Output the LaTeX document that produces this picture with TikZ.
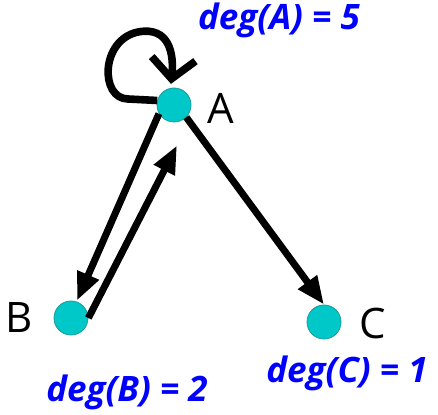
\documentclass[tikz,border=0pt]{standalone}
\usepackage{fontspec}
\setmainfont{Open Sans}
\usepackage{tikz}
\usetikzlibrary{arrows.meta, positioning}
\definecolor{vtxcyan}{HTML}{00C8C8}
\definecolor{vtxrim}{HTML}{1A9A9A}
\definecolor{degblue}{HTML}{0000FF}

\begin{document}
\begin{tikzpicture}[x=0.5pt, y=-0.5pt,
  vtx/.style={circle, fill=vtxcyan, draw=vtxrim, line width=0.4pt, minimum size=17pt, inner sep=0pt},
  vname/.style={font=\fontsize{21}{23}\selectfont, inner sep=0pt},
  deglbl/.style={text=degblue, font=\fontsize{17.5}{19}\selectfont\bfseries\itshape, inner sep=0pt},
  edge/.style={line width=3.5pt, -{Triangle[length=14pt, width=11pt]}},
  loopedge/.style={line width=3.8pt, -{Straight Barb[length=10pt, width=22pt, line width=3.8pt]}}]
  \useasboundingbox (0,0) rectangle (438,415);
  % vertices
  \node[vtx] (A) at (174,105) {};
  \node[vtx] (B) at (71,318) {};
  \node[vtx] (C) at (324,322) {};
  \node[vname, right=8pt of A, yshift=-1.5pt] (nA) {A};
  \node[vname, left=10pt of B] (nB) {B};
  \node[vname, right=9pt of C, yshift=-1pt] (nC) {C};
  % degrees
  \node[deglbl] (dA) at (279,20) {deg(A) = 5};
  \node[deglbl] (dB) at (127,392) {deg(B) = 2};
  \node[deglbl] (dC) at (347,373) {deg(C) = 1};
  % edges
  \draw[edge] (A.210) -- ([xshift=3pt]B.north);
  \draw[edge] (B.east) -- ([xshift=1.5pt, yshift=-11.5pt]A.south);
  \draw[edge] (A.315) -- (C.north);
  \draw[loopedge] (A.165) -- (128,99) .. controls (100,99) and (100,40) .. (138,32)
    .. controls (170,26) and (174,55) .. ([yshift=2pt]A.100);
\end{tikzpicture}
\end{document}
